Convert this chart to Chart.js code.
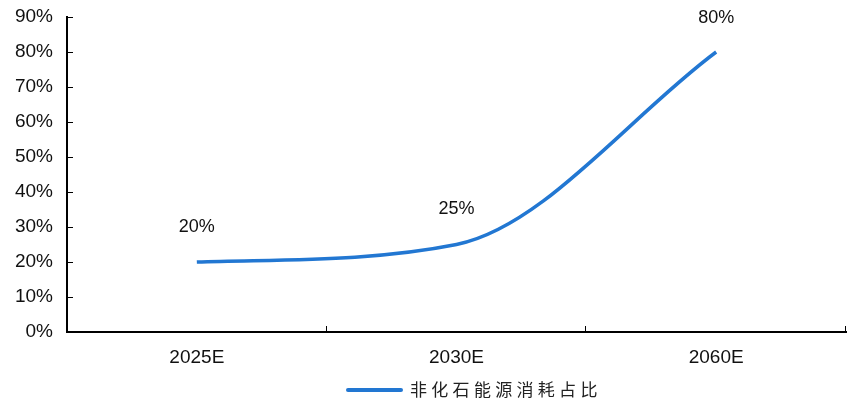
<!DOCTYPE html>
<html>
<head>
<meta charset="utf-8">
<style>
  html, body { margin: 0; padding: 0; background: #fff; }
  #wrap { width: 847px; height: 404px; }
</style>
<script src="https://cdn.jsdelivr.net/npm/chart.js@4"></script>
</head>
<body>
<div id="wrap"><canvas id="shareChart" width="847" height="404"></canvas></div>
<script>
const years = ['2025E', '2030E', '2060E'];
const shareValues = [20, 25, 80];
const yTicks = [0, 10, 20, 30, 40, 50, 60, 70, 80, 90];
const seriesName = '非化石能源消耗占比';

const lineColor = '#2277d2';
const textFont = '"Liberation Sans", Arial, sans-serif';

// short tick marks pointing into the plot area
const innerTicks = {
  id: 'innerTicks',
  afterDraw(chart) {
    const { ctx, scales: { x, y }, chartArea } = chart;
    const step = x.getPixelForValue(1) - x.getPixelForValue(0);
    ctx.save();
    ctx.strokeStyle = '#000';
    ctx.lineWidth = 1;
    ctx.beginPath();
    yTicks.forEach(v => {
      const py = Math.round(y.getPixelForValue(v)) + 0.5;
      ctx.moveTo(chartArea.left, py);
      ctx.lineTo(chartArea.left + 6, py);
    });
    years.forEach((yr, i) => {
      const px = Math.round(x.getPixelForValue(i) + step / 2) - 0.5;
      ctx.moveTo(px, chartArea.bottom);
      ctx.lineTo(px, chartArea.bottom - 6);
    });
    ctx.stroke();
    ctx.restore();
  }
};

// value labels above each point
const valueLabels = {
  id: 'valueLabels',
  afterDatasetsDraw(chart) {
    const { ctx } = chart;
    const meta = chart.getDatasetMeta(0);
    ctx.save();
    ctx.fillStyle = '#111';
    ctx.font = '18px ' + textFont;
    ctx.textAlign = 'center';
    ctx.textBaseline = 'middle';
    meta.data.forEach((pt, i) => {
      ctx.fillText(shareValues[i] + '%', pt.x, Math.max(pt.y - 35, 18));
    });
    ctx.restore();
  }
};

// legend drawn by hand so the CJK text can be spaced out
const spacedLegend = {
  id: 'spacedLegend',
  afterDraw(chart) {
    const { ctx } = chart;
    const cy = 390;
    ctx.save();
    ctx.strokeStyle = lineColor;
    ctx.lineWidth = 4;
    ctx.lineCap = 'round';
    ctx.beginPath();
    ctx.moveTo(348, cy);
    ctx.lineTo(401, cy);
    ctx.stroke();
    ctx.fillStyle = '#222';
    ctx.font = '17px "Noto Sans CJK SC", sans-serif';
    ctx.letterSpacing = '4.3px';
    ctx.textBaseline = 'middle';
    ctx.fillText(seriesName, 410, cy);
    ctx.restore();
  }
};

new Chart(document.getElementById('shareChart'), {
  type: 'line',
  data: {
    labels: years,
    datasets: [{
      label: seriesName,
      data: shareValues,
      borderColor: lineColor,
      borderWidth: 3.5,
      pointRadius: 0,
      cubicInterpolationMode: 'monotone',
      fill: false
    }]
  },
  options: {
    responsive: false,
    animation: false,
    layout: { padding: { top: 17, right: 1, left: 0, bottom: 0 } },
    plugins: {
      legend: { display: false },
      tooltip: { enabled: false }
    },
    scales: {
      x: {
        offset: true,
        grid: { display: false, drawTicks: false },
        border: { display: true, color: '#000', width: 2 },
        ticks: { color: '#111', font: { family: textFont, size: 19 }, padding: 14 },
        afterFit(scale) {
          scale.height = 72;
          scale.paddingLeft = scale.paddingRight = 0;
        }
      },
      y: {
        min: 0,
        max: 90,
        grid: { display: false, drawTicks: false },
        border: { display: true, color: '#000', width: 2 },
        ticks: {
          stepSize: 10,
          color: '#111',
          font: { family: textFont, size: 19 },
          padding: 14,
          callback: v => v + '%'
        },
        afterFit(scale) {
          scale.width = 67;
          scale.paddingTop = scale.paddingBottom = 0;
        }
      }
    }
  },
  plugins: [innerTicks, valueLabels, spacedLegend]
});
</script>
</body>
</html>
